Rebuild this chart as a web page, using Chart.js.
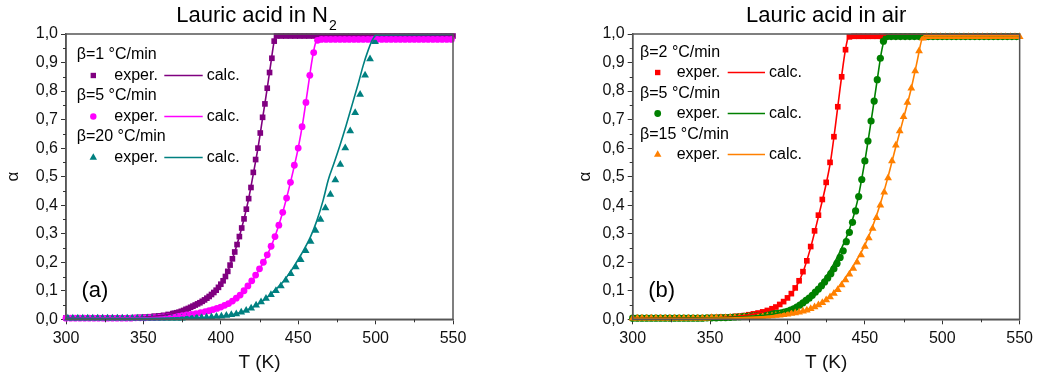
<!DOCTYPE html>
<html>
<head>
<meta charset="utf-8">
<script src="https://cdn.jsdelivr.net/npm/chart.js@4.4.1/dist/chart.umd.min.js"></script>
<style>
  body { margin: 0; background: #fff; width: 1038px; height: 381px; overflow: hidden; position: relative; }
  .box { position: absolute; top: 0; width: 519px; height: 381px; }
</style>
</head>
<body>
<div class="box" style="left:0"><canvas id="n2"></canvas></div>
<div class="box" style="left:519px"><canvas id="air"></canvas></div>
<script>
// ---- axis ticks ----
const xMinor = [325, 375, 425, 475, 525];
const yMinor = [0.05, 0.15, 0.25, 0.35, 0.45, 0.55, 0.65, 0.75, 0.85, 0.95];

// ---- (a) Lauric acid in N2 ----
const n2Rates = ["β=1 °C/min", "β=5 °C/min", "β=20 °C/min"];

// beta = 1, experimental
const n2b1T = [300,303,306,309,312,315,318,321,324,327,330,333,336,339,342,345,348,351,354,357,360,363,366,369,
  370,371.5,373,374.5,376,377.5,379,380.5,382,383.5,385,386.5,388,389.5,391,392.5,394,395.5,397,398.5,400,401.5,403,404.5,406,407.5,409,410.5,412,413.5,415,416.5,418,419.5,421,422.5,424,425.5,427,428.5,430,431.5,433,434.5,436,
  439,442,445,448,451,454,457,460,463,466,469,472,475,478,481,484,487,490,493,496,499,502,505,508,511,514,517,520,523,526,529,532,535,538,541,544,547,550];
const n2b1A = [0.005,0.005,0.005,0.005,0.005,0.005,0.005,0.005,0.005,0.005,0.005,0.005,0.005,0.005,0.005,0.006,0.007,0.008,0.009,0.011,0.012,0.014,0.017,0.02,
  0.021,0.023,0.025,0.028,0.031,0.035,0.038,0.042,0.046,0.05,0.054,0.058,0.063,0.068,0.074,0.08,0.087,0.094,0.102,0.112,0.123,0.135,0.15,0.168,0.19,0.212,0.236,0.262,0.29,0.32,0.352,0.386,0.423,0.462,0.515,0.56,0.6,0.653,0.708,0.755,0.81,0.865,0.915,0.975,0.993,
  0.993,0.993,0.993,0.993,0.993,0.993,0.993,0.993,0.993,0.993,0.993,0.993,0.993,0.993,0.993,0.993,0.993,0.993,0.993,0.993,0.993,0.993,0.993,0.993,0.993,0.993,0.993,0.993,0.993,0.993,0.993,0.993,0.993,0.993,0.993,0.993,0.993,0.993];
// beta = 1, calculated
const n2b1CalcT = [300,320,340,350,360,370,375,380,385,390,395,400,403,406,409,412,415,418,421,424,427,430,432,434,435,436,440,550];
const n2b1CalcA = [0.004,0.004,0.005,0.007,0.012,0.021,0.029,0.04,0.054,0.07,0.094,0.123,0.15,0.19,0.236,0.29,0.352,0.423,0.51,0.6,0.705,0.81,0.885,0.96,0.99,0.996,0.997,0.997];

// beta = 5, experimental
const n2b5T = [300,303,306,309,312,315,318,321,324,327,330,333,336,339,342,345,348,351,354,357,360,363,366,369,372,375,378,381,384,387,390,
  392.5,395,397.5,400,402.5,405,407.5,410,412.5,415,417.5,420,422.5,425,427.5,430,432.5,435,437.5,440,442.5,445,447.5,450,452.5,455,457.5,460,462.5,
  465,468,471,474,477,480,483,486,489,492,495,498,501,504,507,510,513,516,519,522,525,528,531,534,537,540,543,546,549];
const n2b5A = [0.004,0.004,0.004,0.004,0.004,0.004,0.004,0.004,0.004,0.004,0.004,0.004,0.004,0.004,0.004,0.005,0.005,0.005,0.006,0.006,0.007,0.008,0.009,0.01,0.011,0.013,0.015,0.017,0.02,0.023,0.027,
  0.03,0.034,0.038,0.043,0.049,0.055,0.064,0.074,0.085,0.1,0.117,0.135,0.155,0.177,0.2,0.226,0.256,0.29,0.33,0.375,0.425,0.48,0.54,0.6,0.675,0.76,0.855,0.935,0.978,
  0.981,0.981,0.981,0.981,0.981,0.981,0.981,0.981,0.981,0.981,0.981,0.981,0.981,0.981,0.981,0.981,0.981,0.981,0.981,0.981,0.981,0.981,0.981,0.981,0.981,0.981,0.981,0.981,0.981];
const n2b5CalcT = [300,340,360,380,390,400,405,410,415,420,425,430,435,440,445,450,453,456,459,461,462.5,464,550];
const n2b5CalcA = [0.003,0.004,0.007,0.016,0.026,0.042,0.055,0.073,0.099,0.134,0.176,0.225,0.29,0.375,0.48,0.6,0.69,0.8,0.91,0.965,0.98,0.983,0.983];

// beta = 20, experimental
const n2b20T = [301.2,304.4,307.6,310.8,314,317.2,320.4,323.6,326.8,330,333.2,336.4,339.6,342.8,346,349.2,352.4,355.6,358.8,362,365.2,368.4,371.6,374.8,
  378,381.2,384.4,387.6,390.8,394,397.2,400.4,403.6,406.8,410,413.2,416.4,419.6,422.8,426,429.2,432.4,435.6,438.8,442,445.2,448.4,451.6,454.8,458,461.2,464.4,467.6,470.8,474,477.2,480.4,483.6,486.8,490,493.2,496.4,499.6];
const n2b20A = [0.004,0.004,0.004,0.004,0.004,0.004,0.004,0.004,0.004,0.004,0.004,0.004,0.004,0.004,0.004,0.004,0.004,0.004,0.004,0.004,0.004,0.004,0.004,0.004,
  0.005,0.005,0.006,0.006,0.007,0.008,0.01,0.011,0.013,0.016,0.019,0.025,0.031,0.039,0.049,0.061,0.073,0.086,0.1,0.117,0.137,0.16,0.183,0.209,0.24,0.273,0.311,0.35,0.39,0.437,0.488,0.543,0.6,0.66,0.724,0.788,0.855,0.912,0.973];
const n2b20CalcT = [300,340,380,395,405,415,422,428,434,440,446,452,458,462,466,469.5,473,477,481,485,489,492,495,498,500.5,550];
const n2b20CalcA = [0.003,0.003,0.004,0.007,0.013,0.028,0.046,0.068,0.097,0.13,0.175,0.228,0.29,0.345,0.415,0.49,0.545,0.61,0.68,0.755,0.83,0.89,0.94,0.98,0.997,0.998];

// ---- (b) Lauric acid in air ----
const airRates = ["β=2 °C/min", "β=5 °C/min", "β=15 °C/min"];

const airb2T = [300,303,306,309,312,315,318,321,324,327,330,333,336,339,342,345,348,351,354,357,360,363,366,369,372,375,378,381,384,387,390,
  392.5,395,397.5,400,402.5,405,407.5,410,412.5,415,417.5,420,422.5,425,427.5,430,432.5,435,437.5,440,
  443,446,449,452,455,458,461,464,467,470,473,476,479,482,485,488,491,494,497,500,503,506,509,512,515,518,521,524,527,530,533,536,539,542,545,548];
const airb2A = [0.004,0.004,0.004,0.004,0.004,0.004,0.004,0.004,0.004,0.004,0.004,0.004,0.004,0.004,0.004,0.005,0.005,0.006,0.006,0.007,0.007,0.008,0.01,0.011,0.013,0.016,0.019,0.022,0.026,0.031,0.037,
  0.043,0.052,0.062,0.075,0.09,0.11,0.135,0.167,0.205,0.255,0.31,0.365,0.42,0.48,0.55,0.64,0.745,0.85,0.945,0.99,
  0.992,0.992,0.992,0.992,0.992,0.992,0.992,0.992,0.992,0.992,0.992,0.992,0.992,0.992,0.992,0.992,0.992,0.992,0.992,0.992,0.992,0.992,0.992,0.992,0.992,0.992,0.992,0.992,0.992,0.992,0.992,0.992,0.992,0.992,0.992,0.992];
const airb2CalcT = [300,340,360,380,390,400,405,410,415,420,425,428,431,434,437,439,440.5,550];
const airb2CalcA = [0.003,0.004,0.007,0.02,0.036,0.074,0.108,0.165,0.252,0.36,0.475,0.56,0.68,0.81,0.93,0.985,0.997,0.997];

const airb5T = [300,303,306,309,312,315,318,321,324,327,330,333,336,339,342,345,348,351,354,357,360,363,366,369,372,375,378,381,384,387,390,
  392,394,396,398,400,402,404,406,408,410,412,414,416,418,420,422,424,426,428,430,432,434,436,438,440,442,444,446,448,450,452,454,456,458,460,462,464,
  467,470,473,476,479,482,485,488,491,494,497,500,503,506,509,512,515,518,521,524,527,530,533,536,539,542,545,548];
const airb5A = [0.004,0.004,0.004,0.004,0.004,0.004,0.004,0.004,0.004,0.004,0.004,0.004,0.004,0.004,0.004,0.004,0.005,0.005,0.005,0.006,0.006,0.007,0.008,0.009,0.01,0.011,0.012,0.013,0.015,0.016,0.018,
  0.02,0.021,0.023,0.025,0.028,0.032,0.037,0.043,0.05,0.058,0.066,0.074,0.084,0.095,0.106,0.118,0.131,0.145,0.16,0.177,0.196,0.217,0.24,0.272,0.305,0.34,0.38,0.43,0.49,0.555,0.625,0.695,0.765,0.84,0.915,0.975,0.99,
  0.991,0.991,0.991,0.991,0.991,0.991,0.991,0.991,0.991,0.991,0.991,0.991,0.991,0.991,0.991,0.991,0.991,0.991,0.991,0.991,0.991,0.991,0.991,0.991,0.991,0.991,0.991,0.991];
const airb5CalcT = [300,340,360,380,390,400,405,410,415,420,425,430,435,440,445,450,455,458,461,463,465,550];
const airb5CalcA = [0.003,0.004,0.006,0.012,0.018,0.03,0.042,0.06,0.083,0.113,0.15,0.195,0.25,0.315,0.41,0.555,0.73,0.84,0.945,0.985,0.995,0.995];

const airb15T = [300,303,306,309,312,315,318,321,324,327,330,333,336,339,342,345,348,351,354,357,360,363,366,369,372,375,378,381,384,387,390,
  392.5,395,397.5,400,402.5,405,407.5,410,412.5,415,417.5,420,422.5,425,427.5,430,432.5,435,437.5,440,442.5,445,447.5,450,452.5,455,457.5,460,462.5,465,467.5,470,472.5,475,477.5,480,482.5,485,487.5,
  490,493,496,499,502,505,508,511,514,517,520,523,526,529,532,535,538,541,544,547,550];
const airb15A = [0.004,0.004,0.004,0.004,0.004,0.004,0.004,0.004,0.004,0.004,0.004,0.004,0.004,0.004,0.004,0.004,0.004,0.005,0.005,0.005,0.005,0.006,0.006,0.007,0.007,0.008,0.009,0.009,0.01,0.011,0.012,
  0.013,0.014,0.016,0.018,0.02,0.022,0.025,0.028,0.032,0.037,0.043,0.05,0.058,0.068,0.078,0.09,0.104,0.12,0.138,0.158,0.178,0.2,0.225,0.255,0.285,0.318,0.356,0.4,0.445,0.495,0.555,0.61,0.66,0.71,0.76,0.81,0.87,0.94,0.985,
  0.99,0.99,0.99,0.99,0.99,0.99,0.99,0.99,0.99,0.99,0.99,0.99,0.99,0.99,0.99,0.99,0.99,0.99,0.99,0.99,0.99];
const airb15CalcT = [300,340,380,400,410,420,430,440,445,450,455,460,465,470,475,480,484,486.5,488.5,550];
const airb15CalcA = [0.003,0.003,0.008,0.017,0.028,0.052,0.095,0.165,0.21,0.26,0.325,0.405,0.5,0.605,0.705,0.81,0.91,0.975,0.995,0.995];

const fontFamily = '"Liberation Sans", Arial, Helvetica, sans-serif';
const frameColor = '#555';

function pts(T, A) {
  return T.map((t, i) => ({ x: t, y: A[i] }));
}

function expSet(T, A, color, style, r) {
  return {
    data: pts(T, A), showLine: false, pointStyle: style, pointRadius: r,
    pointBackgroundColor: color, pointBorderColor: color, pointBorderWidth: 0, clip: false
  };
}

function calcSet(T, A, color) {
  return {
    data: pts(T, A), showLine: true, borderColor: color, borderWidth: 1.6,
    pointRadius: 0, cubicInterpolationMode: 'monotone', fill: false, clip: false
  };
}

function drawShape(ctx, style, x, y, r) {
  ctx.beginPath();
  if (style === 'rect') {
    const s = r / Math.SQRT2;
    ctx.rect(x - s, y - s, 2 * s, 2 * s);
  } else if (style === 'circle') {
    ctx.arc(x, y, r, 0, 2 * Math.PI);
  } else {
    let a = 0;
    ctx.moveTo(x + Math.sin(a) * r, y - Math.cos(a) * r);
    a += 2 * Math.PI / 3;
    ctx.lineTo(x + Math.sin(a) * r, y - Math.cos(a) * r);
    a += 2 * Math.PI / 3;
    ctx.lineTo(x + Math.sin(a) * r, y - Math.cos(a) * r);
    ctx.closePath();
  }
  ctx.fill();
}

// frame, minor ticks, title, in-plot legend and panel label
const panelPlugin = {
  id: 'panel',
  afterDraw(chart, args, o) {
    const { ctx, chartArea: { left, right, top, bottom } } = chart;
    const xs = chart.scales.x, ys = chart.scales.y;
    ctx.save();
    ctx.strokeStyle = frameColor;
    ctx.lineWidth = 1.5;
    ctx.strokeRect(left, top, right - left, bottom - top);

    ctx.strokeStyle = '#333';
    ctx.lineWidth = 1;
    ctx.beginPath();
    xMinor.forEach(v => {
      const px = Math.round(xs.getPixelForValue(v)) + 0.5;
      ctx.moveTo(px, bottom); ctx.lineTo(px, bottom + 3);
    });
    yMinor.forEach(v => {
      const py = Math.round(ys.getPixelForValue(v)) + 0.5;
      ctx.moveTo(left, py); ctx.lineTo(left - 3, py);
    });
    ctx.stroke();

    // title
    ctx.fillStyle = '#000';
    ctx.textBaseline = 'alphabetic';
    ctx.textAlign = 'left';
    ctx.font = '22px ' + fontFamily;
    const wMain = ctx.measureText(o.title).width;
    ctx.font = '14px ' + fontFamily;
    const wSub = o.sub ? ctx.measureText(o.sub).width + 1 : 0;
    const tx = (left + right) / 2 - (wMain + wSub) / 2 - o.titleShift;
    ctx.font = '22px ' + fontFamily;
    ctx.fillText(o.title, tx, 22);
    if (o.sub) {
      ctx.font = '14px ' + fontFamily;
      ctx.fillText(o.sub, tx + wMain + 1, 30);
    }

    // legend
    const L = o.legend;
    ctx.font = '16px ' + fontFamily;
    ctx.textBaseline = 'middle';
    o.rates.forEach((rate, i) => {
      const y0 = top + L.headY + i * L.step;
      const y1 = y0 + L.rowGap;
      ctx.fillStyle = '#000';
      ctx.fillText(rate, left + L.headX, y0);
      ctx.fillStyle = o.colors[i];
      drawShape(ctx, o.styles[i], left + L.markX, y1, o.sizes[i]);
      ctx.fillStyle = '#000';
      ctx.fillText('exper.', left + L.experX, y1);
      ctx.strokeStyle = o.colors[i];
      ctx.lineWidth = 1.6;
      ctx.beginPath();
      ctx.moveTo(left + L.lineX0, y1);
      ctx.lineTo(left + L.lineX1, y1);
      ctx.stroke();
      ctx.fillText('calc.', left + L.calcX, y1);
    });

    // panel label
    ctx.font = '22px ' + fontFamily;
    ctx.fillText(o.label, left + 15.5, bottom - 28);
    ctx.restore();
  }
};

function makePanel(id, datasets, padL, padR, yTitlePad, panelOpts) {
  const ctx = document.getElementById(id).getContext('2d');
  return new Chart(ctx, {
    type: 'scatter',
    data: { datasets: datasets },
    plugins: [panelPlugin],
    options: {
      responsive: true,
      maintainAspectRatio: false,
      animation: false,
      events: [],
      layout: { padding: { left: padL, right: padR, top: 34, bottom: 0 } },
      plugins: {
        legend: { display: false },
        tooltip: { enabled: false },
        title: { display: false },
        panel: panelOpts
      },
      scales: {
        x: {
          type: 'linear', min: 300, max: 550,
          ticks: { stepSize: 50, color: '#111', font: { family: fontFamily, size: 16 }, padding: 5, maxRotation: 0 },
          grid: { drawOnChartArea: false, tickLength: 5, tickColor: '#333' },
          border: { color: frameColor, width: 1.5 },
          title: { display: true, text: 'T (K)', color: '#111', font: { family: fontFamily, size: 19 }, padding: { top: 0, bottom: 7 } },
          afterFit: s => { s.height = 61.7; }
        },
        y: {
          min: 0, max: 1,
          ticks: {
            stepSize: 0.1, color: '#111', font: { family: fontFamily, size: 16 }, padding: 3,
            callback: v => v.toFixed(1).replace('.', ',')
          },
          grid: { drawOnChartArea: false, tickLength: 5, tickColor: '#333' },
          border: { color: frameColor, width: 1.5 },
          title: { display: true, text: 'α', color: '#111', font: { family: fontFamily, size: 17 }, padding: { top: yTitlePad, bottom: 0 } },
          afterFit: s => { s.width = 66; }
        }
      }
    }
  });
}

const n2Colors = ['#800080', '#ff00ff', '#008080'];
const airColors = ['#ff0000', '#008000', '#ff8000'];

makePanel('n2', [
  calcSet(n2b20CalcT, n2b20CalcA, n2Colors[2]),
  calcSet(n2b5CalcT, n2b5CalcA, n2Colors[1]),
  calcSet(n2b1CalcT, n2b1CalcA, n2Colors[0]),
  expSet(n2b20T, n2b20A, n2Colors[2], 'triangle', 4.5),
  expSet(n2b5T, n2b5A, n2Colors[1], 'circle', 3.4),
  expSet(n2b1T, n2b1A, n2Colors[0], 'rect', 4)
], 0, 66, 3, {
  title: 'Lauric acid in N', sub: '2', label: '(a)', titleShift: 3,
  rates: n2Rates, colors: n2Colors, styles: ['rect', 'circle', 'triangle'], sizes: [3.8, 3.2, 4.3],
  legend: { headX: 10.7, markX: 27.3, experX: 48.3, lineX0: 98.3, lineX1: 136.7, calcX: 140.7, headY: 21, rowGap: 20.5, step: 41 }
});

makePanel('air', [
  calcSet(airb15CalcT, airb15CalcA, airColors[2]),
  calcSet(airb5CalcT, airb5CalcA, airColors[1]),
  calcSet(airb2CalcT, airb2CalcA, airColors[0]),
  expSet(airb15T, airb15A, airColors[2], 'triangle', 4.5),
  expSet(airb5T, airb5A, airColors[1], 'circle', 3.6),
  expSet(airb2T, airb2A, airColors[0], 'rect', 4)
], 47.7, 18, 8, {
  title: 'Lauric acid in air', sub: '', label: '(b)', titleShift: 0,
  rates: airRates, colors: airColors, styles: ['rect', 'circle', 'triangle'], sizes: [3.8, 3.4, 4.3],
  legend: { headX: 7.3, markX: 25, experX: 44, lineX0: 95, lineX1: 132.3, calcX: 136.3, headY: 18.7, rowGap: 19.8, step: 41 }
});
</script>
</body>
</html>
